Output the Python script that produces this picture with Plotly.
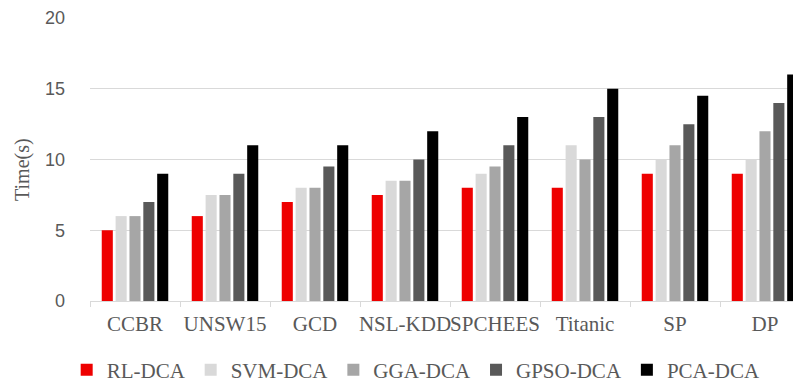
import plotly.graph_objects as go

categories = ["CCBR", "UNSW15", "GCD", "NSL-KDD", "SPCHEES", "Titanic", "SP", "DP"]
series_names = ["RL-DCA", "SVM-DCA", "GGA-DCA", "GPSO-DCA", "PCA-DCA"]
rl_dca = [5, 6, 7, 7.5, 8, 8, 9, 9]
svm_dca = [6, 7.5, 8, 8.5, 9, 11, 10, 10]
gga_dca = [6, 7.5, 8, 8.5, 9.5, 10, 11, 12]
gpso_dca = [7, 9, 9.5, 10, 11, 13, 12.5, 14]
pca_dca = [9, 11, 11, 12, 13, 15, 14.5, 16]
y_ticks = [0, 5, 10, 15, 20]

colors = ["#EE0000", "#D9D9D9", "#A6A6A6", "#595959", "#000000"]
values = [rl_dca, svm_dca, gga_dca, gpso_dca, pca_dca]

fig = go.Figure()
for name, vals, col in zip(series_names, values, colors):
    fig.add_trace(go.Bar(x=categories, y=vals, name=name, marker=dict(color=col, line=dict(width=0))))

fig.update_layout(
    width=793, height=377,
    margin=dict(l=82, r=0, t=10, b=84, autoexpand=False),
    paper_bgcolor="white", plot_bgcolor="white",
    barmode="group", bargap=0.23, bargroupgap=0.2,
    showlegend=True,
    legend=dict(orientation="h", xref="container", yref="container",
                x=0.074, xanchor="left", y=(377 - 362) / 377, yanchor="middle",
                font=dict(family="Liberation Serif", size=21, color="#595959"),
                itemclick=False, traceorder="normal"),
    xaxis=dict(type="category", range=[-0.5, 7.4], showgrid=False, automargin=False,
               showline=True, linecolor="#D9D9D9", linewidth=1, tickangle=0,
               ticks="outside", tickson="boundaries", ticklen=5, tickcolor="#D9D9D9",
               ticklabelstandoff=4,
               tickfont=dict(family="Liberation Serif", size=21, color="#595959")),
    yaxis=dict(range=[0, 20], tickvals=y_ticks, showgrid=True, gridcolor="#D9D9D9", gridwidth=1,
               zeroline=False, showline=False, ticks="", ticklabelstandoff=24, automargin=False,
               tickfont=dict(family="Liberation Sans", size=18, color="#595959")),
    annotations=[dict(text="Time(s)", textangle=-90, xref="paper", yref="paper",
                      x=(22 - 8 - 82) / 711, y=(293 - 162) / 283, xanchor="center", yanchor="middle",
                      showarrow=False,
                      font=dict(family="Liberation Serif", size=20, color="#595959"))],
)
fig.write_html("out.html")
